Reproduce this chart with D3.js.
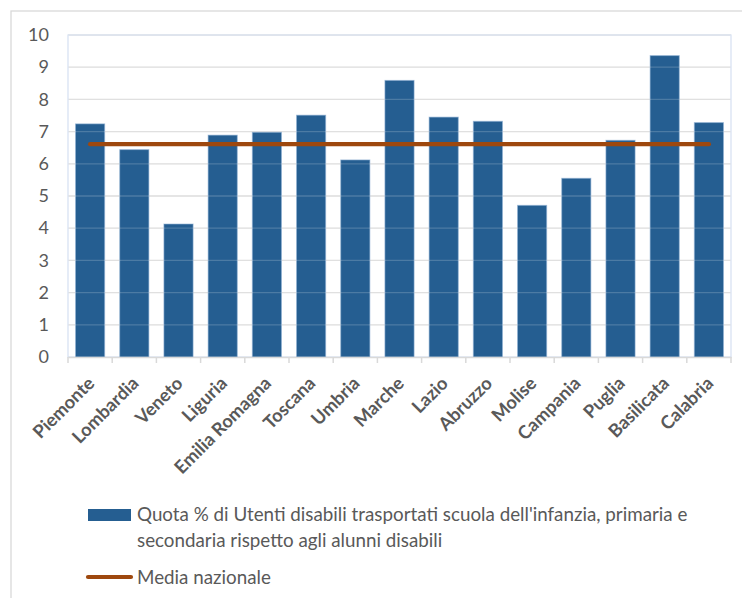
<!DOCTYPE html>
<html>
<head>
<meta charset="utf-8">
<script src="https://cdn.jsdelivr.net/npm/d3@7"></script>
<style>
  html, body { margin: 0; padding: 0; background: #fff; }
  svg { display: block; font-family: Lato, "Noto Sans", sans-serif; }
</style>
</head>
<body>
<svg id="chart" width="742" height="598"></svg>
<script>
// ---- data ----
const regions = ["Piemonte","Lombardia","Veneto","Liguria","Emilia Romagna","Toscana","Umbria","Marche","Lazio","Abruzzo","Molise","Campania","Puglia","Basilicata","Calabria"];
const quota = [7.24, 6.44, 4.13, 6.89, 6.98, 7.51, 6.12, 8.59, 7.45, 7.32, 4.71, 5.55, 6.73, 9.36, 7.28];
const media = [6.61, 6.61, 6.61, 6.61, 6.61, 6.61, 6.61, 6.61, 6.61, 6.61, 6.61, 6.61, 6.61, 6.61, 6.61];
const yTicks = [0,1,2,3,4,5,6,7,8,9,10];
const seriesNames = ["Quota % di Utenti disabili trasportati scuola dell'infanzia, primaria e", "secondaria rispetto agli alunni disabili"];
const lineName = "Media nazionale";

// ---- layout ----
const svg = d3.select("#chart");
const plot = {left: 68, top: 35, right: 731, bottom: 357};
const barColor = "#255E91", lineColor = "#9E480E", textColor = "#595959", gridColor = "#d9d9d9";

// outer chart border
svg.append("rect").attr("x", 11).attr("y", 11).attr("width", 760).attr("height", 620)
  .attr("fill", "none").attr("stroke", "#d9d9d9").attr("stroke-width", 1.3);

const x = d3.scaleBand().domain(regions).range([plot.left, plot.right]).padding(0);
const y = d3.scaleLinear().domain([0, 10]).range([plot.bottom, plot.top]);
const barFrac = 0.66;

// gridlines
const grid = svg.append("g");
grid.selectAll("line").data(yTicks.filter(d => d > 0)).join("line")
  .attr("x1", plot.left).attr("x2", plot.right)
  .attr("y1", d => y(d)).attr("y2", d => y(d))
  .attr("stroke", gridColor).attr("stroke-width", 1.3);

// plot area border
svg.append("rect").attr("x", plot.left).attr("y", plot.top)
  .attr("width", plot.right - plot.left).attr("height", plot.bottom - plot.top)
  .attr("fill", "none").attr("stroke", "#d5e0f2").attr("stroke-width", 1.2);

// bars
svg.append("g").selectAll("rect").data(regions).join("rect")
  .attr("x", d => x(d) + x.bandwidth() * (1 - barFrac) / 2)
  .attr("width", x.bandwidth() * barFrac)
  .attr("y", (d, i) => y(quota[i]))
  .attr("height", (d, i) => y(0) - y(quota[i]))
  .attr("fill", barColor)
  .attr("stroke", "#8fb0d3").attr("stroke-opacity", 0.6).attr("stroke-width", 1);

// gridlines seen through bars
svg.append("g").selectAll("line").data(yTicks.filter(d => d > 0)).join("line")
  .attr("x1", plot.left).attr("x2", plot.right)
  .attr("y1", d => y(d)).attr("y2", d => y(d))
  .attr("stroke", "#ffffff").attr("stroke-opacity", 0.18).attr("stroke-width", 1.3);

// x axis
const xAxis = svg.append("g").attr("transform", `translate(0,${plot.bottom})`)
  .call(d3.axisBottom(x).tickSize(0).tickFormat(""));
xAxis.select(".domain").attr("stroke", gridColor).attr("stroke-width", 1.5);
xAxis.selectAll(".tick").remove();
const bounds = regions.map(d => x(d)).concat([plot.right]);
xAxis.selectAll("line.tk").data(bounds).join("line").attr("class", "tk")
  .attr("x1", d => d).attr("x2", d => d).attr("y1", 0).attr("y2", 6)
  .attr("stroke", gridColor).attr("stroke-width", 1.5);

// x labels
svg.append("g").selectAll("text").data(regions).join("text")
  .attr("transform", d => `translate(${x(d) + x.bandwidth() / 2 + 1},380) rotate(-45)`)
  .attr("text-anchor", "end").attr("dy", "0.35em")
  .attr("font-size", 18.2).attr("font-weight", "bold").attr("fill", textColor)
  .text(d => d);

// y axis
const yAxis = svg.append("g").attr("transform", `translate(${plot.left},0)`)
  .call(d3.axisLeft(y).tickValues(yTicks).tickSize(0).tickPadding(19).tickFormat(d3.format("d")));
yAxis.select(".domain").remove();
yAxis.selectAll("text").attr("font-size", 18).attr("fill", textColor).attr("font-family", "Lato, sans-serif");

// media line
const line = d3.line().x(d => x(d) + x.bandwidth() / 2).y((d, i) => y(media[i]));
svg.append("path").datum(regions).attr("d", line)
  .attr("fill", "none").attr("stroke", lineColor).attr("stroke-width", 4.2).attr("stroke-linecap", "round");

// legend
const lg = svg.append("g");
lg.append("rect").attr("x", 88).attr("y", 509).attr("width", 43).attr("height", 12).attr("fill", barColor);
lg.selectAll("text.s").data(seriesNames).join("text").attr("class", "s")
  .attr("x", 137).attr("y", (d, i) => 514 + i * 26).attr("dy", "0.35em")
  .attr("font-size", 18.8).attr("fill", textColor).text(d => d);
lg.append("line").attr("x1", 88).attr("x2", 131).attr("y1", 577).attr("y2", 577)
  .attr("stroke", lineColor).attr("stroke-width", 4.2).attr("stroke-linecap", "round");
lg.append("text").attr("x", 137).attr("y", 577).attr("dy", "0.35em")
  .attr("font-size", 18.8).attr("fill", textColor).text(lineName);
</script>
</body>
</html>
